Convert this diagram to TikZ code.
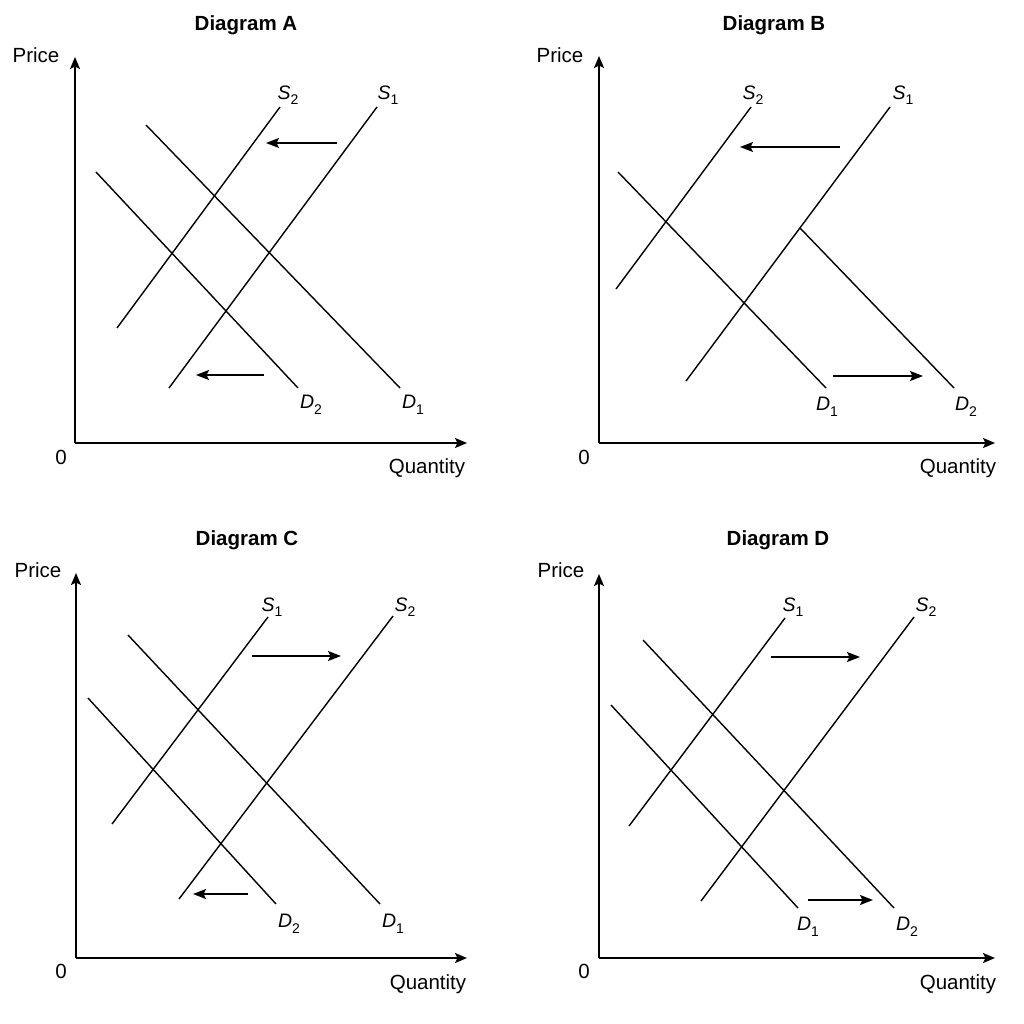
\documentclass[tikz,border=0pt]{standalone}
\usepackage{fontspec}
\setmainfont{Liberation Sans}
\usetikzlibrary{arrows.meta}
\newcommand\curvelab[2]{{\fontsize{19.5}{19.5}\selectfont\textit{#1}\raisebox{-0.28em}{\fontsize{14}{14}\selectfont #2}}}
\tikzset{
  axisline/.style={line width=2pt,-{Stealth[length=12pt,width=10pt,inset=2.5pt]}},
  curveline/.style={line width=1.4pt},
  shiftarrow/.style={line width=1.6pt,-{Stealth[length=13pt,width=10pt,inset=2.5pt]}},
  titletext/.style={font=\fontsize{20.5}{20.5}\selectfont\bfseries,inner sep=0pt},
  axistext/.style={font=\fontsize{20.5}{20.5}\selectfont,inner sep=0pt},
  curvelabel/.style={inner sep=0pt}
}
\begin{document}
\begin{tikzpicture}[x=1pt,y=-1pt]
\useasboundingbox[fill=white] (0,0) rectangle (1024,1024);

% ---------- Diagram A ----------
\node[titletext] (tA) at (246,25) {Diagram A};
\node[axistext] (pA) at (36,55) {Price};
\node[axistext] (zA) at (61,457) {0};
\node[axistext] (qA) at (427,468) {Quantity};
\coordinate (oA) at (75,443);
\coordinate (yA) at (75,57);
\coordinate (xA) at (467,443);
\draw[axisline] (oA) -- (yA);
\draw[axisline] (oA) -- (xA);
\coordinate (AS2a) at (117,328); \coordinate (AS2b) at (280,107);
\coordinate (AS1a) at (169,388); \coordinate (AS1b) at (377,107);
\coordinate (AD1a) at (146,125); \coordinate (AD1b) at (400,388);
\coordinate (AD2a) at (96,172);  \coordinate (AD2b) at (298,388);
\draw[curveline] (AS2a) -- (AS2b);
\draw[curveline] (AS1a) -- (AS1b);
\draw[curveline] (AD1a) -- (AD1b);
\draw[curveline] (AD2a) -- (AD2b);
\node[curvelabel] (AlS2) at (288,95) {\curvelab{S}{2}};
\node[curvelabel] (AlS1) at (388,95) {\curvelab{S}{1}};
\node[curvelabel] (AlD2) at (311,405) {\curvelab{D}{2}};
\node[curvelabel] (AlD1) at (413,405) {\curvelab{D}{1}};
\coordinate (Aa1) at (337,143); \coordinate (Aa2) at (266,143);
\coordinate (Aa3) at (264,375); \coordinate (Aa4) at (196,375);
\draw[shiftarrow] (Aa1) -- (Aa2);
\draw[shiftarrow] (Aa3) -- (Aa4);

% ---------- Diagram B ----------
\node[titletext] (tB) at (774,25) {Diagram B};
\node[axistext] (pB) at (560,55) {Price};
\node[axistext] (zB) at (584,457) {0};
\node[axistext] (qB) at (958,468) {Quantity};
\coordinate (oB) at (599,443);
\coordinate (yB) at (599,56);
\coordinate (xB) at (995,443);
\draw[axisline] (oB) -- (yB);
\draw[axisline] (oB) -- (xB);
\coordinate (BS2a) at (616,289); \coordinate (BS2b) at (751,107);
\coordinate (BS1a) at (686,381); \coordinate (BS1b) at (890,107);
\coordinate (BD1a) at (618,172); \coordinate (BD1b) at (826,388);
\coordinate (BD2a) at (800,228); \coordinate (BD2b) at (954,388);
\draw[curveline] (BS2a) -- (BS2b);
\draw[curveline] (BS1a) -- (BS1b);
\draw[curveline] (BD1a) -- (BD1b);
\draw[curveline] (BD2a) -- (BD2b);
\node[curvelabel] (BlS2) at (753,95) {\curvelab{S}{2}};
\node[curvelabel] (BlS1) at (903,95) {\curvelab{S}{1}};
\node[curvelabel] (BlD1) at (827,407) {\curvelab{D}{1}};
\node[curvelabel] (BlD2) at (966,407) {\curvelab{D}{2}};
\coordinate (Ba1) at (840,147); \coordinate (Ba2) at (740,147);
\coordinate (Ba3) at (833,376); \coordinate (Ba4) at (923,376);
\draw[shiftarrow] (Ba1) -- (Ba2);
\draw[shiftarrow] (Ba3) -- (Ba4);

% ---------- Diagram C ----------
\node[titletext] (tC) at (247,540) {Diagram C};
\node[axistext] (pC) at (38,570) {Price};
\node[axistext] (zC) at (61,971) {0};
\node[axistext] (qC) at (428,984) {Quantity};
\coordinate (oC) at (76,958);
\coordinate (yC) at (76,573);
\coordinate (xC) at (467,958);
\draw[axisline] (oC) -- (yC);
\draw[axisline] (oC) -- (xC);
\coordinate (CS1a) at (112,824); \coordinate (CS1b) at (268,617);
\coordinate (CS2a) at (179,899); \coordinate (CS2b) at (393,616);
\coordinate (CD1a) at (128,635); \coordinate (CD1b) at (380,904);
\coordinate (CD2a) at (88,698);  \coordinate (CD2b) at (276,904);
\draw[curveline] (CS1a) -- (CS1b);
\draw[curveline] (CS2a) -- (CS2b);
\draw[curveline] (CD1a) -- (CD1b);
\draw[curveline] (CD2a) -- (CD2b);
\node[curvelabel] (ClS1) at (272,607) {\curvelab{S}{1}};
\node[curvelabel] (ClS2) at (405,607) {\curvelab{S}{2}};
\node[curvelabel] (ClD2) at (289,924) {\curvelab{D}{2}};
\node[curvelabel] (ClD1) at (393,924) {\curvelab{D}{1}};
\coordinate (Ca1) at (252,656); \coordinate (Ca2) at (341,656);
\coordinate (Ca3) at (248,894); \coordinate (Ca4) at (193,894);
\draw[shiftarrow] (Ca1) -- (Ca2);
\draw[shiftarrow] (Ca3) -- (Ca4);

% ---------- Diagram D ----------
\node[titletext] (tD) at (778,540) {Diagram D};
\node[axistext] (pD) at (561,570) {Price};
\node[axistext] (zD) at (584,971) {0};
\node[axistext] (qD) at (958,984) {Quantity};
\coordinate (oD) at (599,958);
\coordinate (yD) at (599,574);
\coordinate (xD) at (995,958);
\draw[axisline] (oD) -- (yD);
\draw[axisline] (oD) -- (xD);
\coordinate (DS1a) at (629,826); \coordinate (DS1b) at (785,618);
\coordinate (DS2a) at (701,901); \coordinate (DS2b) at (914,617);
\coordinate (DD1a) at (611,705); \coordinate (DD1b) at (798,908);
\coordinate (DD2a) at (643,640); \coordinate (DD2b) at (894,908);
\draw[curveline] (DS1a) -- (DS1b);
\draw[curveline] (DS2a) -- (DS2b);
\draw[curveline] (DD1a) -- (DD1b);
\draw[curveline] (DD2a) -- (DD2b);
\node[curvelabel] (DlS1) at (793,607) {\curvelab{S}{1}};
\node[curvelabel] (DlS2) at (926,607) {\curvelab{S}{2}};
\node[curvelabel] (DlD1) at (808,927) {\curvelab{D}{1}};
\node[curvelabel] (DlD2) at (907,927) {\curvelab{D}{2}};
\coordinate (Da1) at (771,657); \coordinate (Da2) at (860,657);
\coordinate (Da3) at (808,900); \coordinate (Da4) at (873,900);
\draw[shiftarrow] (Da1) -- (Da2);
\draw[shiftarrow] (Da3) -- (Da4);
\end{tikzpicture}
\end{document}
